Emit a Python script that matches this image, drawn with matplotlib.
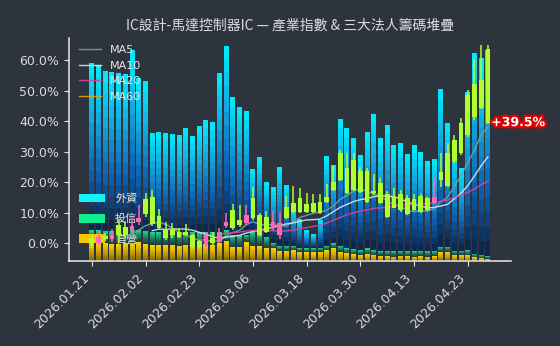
import matplotlib
matplotlib.use('Agg')
import matplotlib.pyplot as plt
import matplotlib.patheffects as pe
from matplotlib.colors import LinearSegmentedColormap
from matplotlib.patches import Patch
from matplotlib.ticker import PercentFormatter
import numpy as np
import pandas as pd

BG = '#2e343e'
CJK = ['Noto Sans CJK TC', 'DejaVu Sans']

# trading days
dates = (['2026.01.21', '2026.01.22', '2026.01.23', '2026.01.26', '2026.01.27',
          '2026.01.28', '2026.01.29', '2026.01.30']
         + ['2026.02.02', '2026.02.03', '2026.02.04', '2026.02.05', '2026.02.06',
            '2026.02.09', '2026.02.10', '2026.02.11', '2026.02.23', '2026.02.24',
            '2026.02.25', '2026.02.26']
         + ['2026.03.02', '2026.03.03', '2026.03.04', '2026.03.05', '2026.03.06',
            '2026.03.09', '2026.03.10', '2026.03.11', '2026.03.12', '2026.03.13',
            '2026.03.16', '2026.03.17', '2026.03.18', '2026.03.19', '2026.03.20',
            '2026.03.23', '2026.03.24', '2026.03.25', '2026.03.26', '2026.03.27',
            '2026.03.30', '2026.03.31']
         + ['2026.04.01', '2026.04.02', '2026.04.07', '2026.04.08', '2026.04.09',
            '2026.04.10', '2026.04.13', '2026.04.14', '2026.04.15', '2026.04.16',
            '2026.04.17', '2026.04.20', '2026.04.21', '2026.04.22', '2026.04.23',
            '2026.04.24', '2026.04.27', '2026.04.28'])

# industry index, % change from the first day
open_ = [1.6, 0.0, 2.3, 1.3, 5.9, 5.4, 4.3, 6.9, 14.5, 15.1,
         8.9, 4.3, 4.3, 3.7, 3.7, 2.6, 0.7, -0.7, 1.7, 0.4,
         5.7, 10.9, 7.6, 6.6, 14.8, 9.2, 8.6, 4.9, 2.6, 11.8,
         13.2, 14.8, 12.8, 13.2, 13.5, 15.1, 20.1, 29.6, 24.7, 27.3,
         23.7, 23.7, 17.1, 19.7, 16.1, 15.1, 16.1, 14.8, 14.5, 15.5,
         14.8, 13.2, 23.4, 29.6, 33.9, 39.5, 48.4, 52.0, 53.6, 63.5]
high = [2.6, 3.6, 3.3, 4.6, 7.9, 7.2, 7.9, 12.5, 16.4, 17.4,
        11.2, 6.9, 6.6, 4.9, 6.3, 3.0, 1.0, 3.6, 3.6, 4.9,
        9.9, 12.8, 12.5, 12.5, 18.4, 9.9, 10.5, 10.5, 10.2, 15.5,
        18.8, 18.1, 16.4, 16.1, 16.1, 19.4, 25.3, 30.6, 29.6, 29.6,
        25.0, 24.7, 22.7, 21.4, 17.1, 18.1, 17.4, 15.8, 16.1, 16.1,
        15.1, 21.4, 29.6, 32.9, 35.5, 41.1, 50.3, 60.2, 64.8, 65.1]
low = [-1.6, -0.7, 0.7, 0.4, 0.3, 1.6, 3.3, 5.9, 8.6, 5.6,
       4.3, 1.0, 1.6, 1.6, 2.3, -1.6, -1.6, -1.3, -0.7, 0.0,
       4.9, 4.3, 5.3, 5.9, 7.6, 2.3, 3.3, 4.3, 1.3, 7.9,
       9.9, 9.9, 9.9, 9.9, 9.5, 13.2, 17.1, 20.4, 16.1, 17.1,
       16.4, 13.2, 15.8, 12.8, 8.2, 11.5, 10.2, 9.2, 10.5, 9.9,
       10.5, 12.8, 18.4, 18.4, 26.3, 28.9, 34.9, 40.5, 43.8, 39.1]
close = [0.0, 2.0, 1.3, 2.6, 2.6, 2.6, 5.6, 8.2, 9.5, 6.3,
         4.9, 1.6, 2.6, 2.1, 2.6, -1.2, -1.2, 2.6, -0.1, 3.2,
         7.0, 4.8, 5.9, 9.2, 8.2, 2.6, 3.6, 6.9, 6.6, 8.2,
         10.2, 10.2, 10.2, 10.2, 9.9, 13.5, 17.4, 20.7, 16.4, 17.4,
         16.8, 13.5, 16.4, 13.2, 8.6, 11.5, 10.9, 9.5, 10.9, 10.2,
         10.9, 15.1, 20.7, 18.8, 27.0, 29.6, 35.5, 41.4, 44.4, 39.5]

# institutional holdings (千張)
foreign = [16.7, 16.5, 16.0, 15.9, 15.7, 15.6, 18.0, 15.2, 15.0, 9.9,
           10.0, 9.9, 9.8, 9.7, 10.4, 9.6, 10.6, 11.2, 11.0, 15.9,
           18.4, 13.8, 12.8, 12.4, 6.3, 7.7, 5.5, 5.6, 7.9, 6.1,
           3.9, 2.9, 1.8, 1.4, 2.8, 9.0, 7.8, 12.7, 12.0, 11.1,
           9.5, 11.6, 13.6, 11.3, 12.6, 10.6, 10.8, 9.7, 10.6, 9.9,
           9.0, 9.2, 15.8, 12.4, 10.1, 8.3, 15.8, 20.1, 19.7, 20.6]
trust = [1.2, 1.3, 1.15, 1.3, 1.4, 1.3, 1.35, 1.2, 1.3, 1.3,
         1.3, 1.3, 1.3, 1.4, 1.3, 1.3, 1.4, 1.2, 1.3, 1.1,
         1.1, 1.17, 1.17, 0.67, 1.37, 1.17, 1.13, 0.5, 0.53, 0.53,
         0.43, 0.37, 0.4, 0.43, 0.4, 0.43, 0.5, 0.6, 0.5, 0.53,
         0.5, 0.6, 0.5, 0.47, 0.5, 0.55, 0.45, 0.5, 0.55, 0.5,
         0.55, 0.5, 0.5, 0.5, 0.45, 0.45, 0.5, 0.35, 0.3, 0.25]
dealer = [1.94, 1.84, 1.89, 1.74, 1.74, 1.84, 1.79, 1.94, 1.74, 1.64,
          1.64, 1.64, 1.64, 1.54, 1.64, 1.64, 1.54, 1.74, 1.64, 1.84,
          2.04, 1.47, 1.47, 1.97, 1.57, 1.57, 1.34, 1.34, 1.04, 1.04,
          1.14, 0.97, 0.91, 0.91, 0.97, 1.14, 1.31, 0.97, 0.81, 0.71,
          0.64, 0.71, 0.64, 0.57, 0.54, 0.49, 0.59, 0.54, 0.49, 0.54,
          0.49, 0.54, 0.97, 0.97, 0.64, 0.64, 0.64, 0.44, 0.34, 0.29]

inst_labels = ['外資', '投信', '自營']
ma_windows = [5, 10, 20, 60]
ma_colors = ['#6fa3a8', '#dde6f3', '#e0409e', '#e0a800']

# %%
x = np.arange(len(dates))
o, h, l, c = (np.array(v) for v in (open_, high, low, close))
f_arr, t_arr, d_arr = np.array(foreign), np.array(trust), np.array(dealer)

fig = plt.figure(figsize=(5.6, 3.46), dpi=100, facecolor=BG)
ax = fig.add_axes([0.1232, 0.2445, 0.7888, 0.6471])
ax2 = ax.twinx()
ax.set_zorder(ax2.get_zorder() + 1)
ax.patch.set_visible(False)
ax2.patch.set_visible(True)
ax2.patch.set_facecolor(BG)

# stacked chip bars, each segment drawn as a stepped vertical gradient
cmaps = [LinearSegmentedColormap.from_list('dl', ['#7a5e00', '#c9a000', '#ffd400']),
         LinearSegmentedColormap.from_list('tr', ['#163f3a', '#1f7a62', '#20d890']),
         LinearSegmentedColormap.from_list('fx', ['#0a2246', '#0d5fae', '#13a6dc', '#00f0ff'])]
steps = 14
base = np.zeros(len(x))
for seg, cm in zip([d_arr, t_arr, f_arr], cmaps):
    for k in range(steps):
        ax2.bar(x, seg / steps, bottom=base + seg * k / steps, width=0.74,
                color=cm((k + 0.5) / steps), linewidth=0)
    base = base + seg
ax2.set_ylim(0, base.max() * 1.04)
ax2.set_yticks([])
for s in ax2.spines.values():
    s.set_visible(False)

handles = [Patch(facecolor='#18f0fa'), Patch(facecolor='#10ee90'),
           Patch(facecolor='#f5c800')]
ax2.legend(handles, inst_labels, loc='lower left', bbox_to_anchor=(0, 0.03),
           frameon=False, handlelength=2.35, handleheight=0.85,
           handletextpad=0.9, labelspacing=0.9, labelcolor='#e8e8e8',
           prop={'family': CJK, 'size': 8})

# candles
up = c > o
col = np.where(up, '#ff69b4', '#adff2f')
ax.vlines(x, l, h, color=col, linewidth=1.1, zorder=3)
body = np.maximum(np.abs(c - o), 0.3)
ax.bar(x, body, bottom=np.minimum(o, c), width=0.7, color=col, linewidth=0,
       zorder=4)

# moving averages
for n, mc in zip(ma_windows, ma_colors):
    ma = pd.Series(c).rolling(n).mean()
    ax.plot(x, ma, color=mc, linewidth=1.0, alpha=0.9, label='MA%d' % n, zorder=2)
ax.legend(loc='upper left', bbox_to_anchor=(0, 1.01), frameon=False, fontsize=8,
          labelspacing=0.5, labelcolor='#e8e8e8')

ax.text(x[-1] + 0.5, c[-1], '%+.1f%%' % c[-1], color='white', fontsize=9,
        fontweight='bold', ha='left', va='center', zorder=6,
        path_effects=[pe.withStroke(linewidth=3.5, foreground='#e00000')])

ax.set_xlim(-3.4, 62.4)
ax.set_ylim(-6.0, 67.4)
ax.set_yticks(np.arange(0, 61, 10))
ax.yaxis.set_major_formatter(PercentFormatter(decimals=1))
ax.set_xticks(x[::8])
ax.set_xticklabels(dates[::8], rotation=45, ha='right')
ax.tick_params(colors='#e0e0e0', labelsize=9, labelcolor='#d8dce2')
for side in ['top', 'right']:
    ax.spines[side].set_visible(False)
for side in ['left', 'bottom']:
    ax.spines[side].set_color('#e8e8e8')
    ax.spines[side].set_linewidth(1.1)

ax.set_title('IC設計-馬達控制器IC — 產業指數 & 三大法人籌碼堆疊', family=CJK,
             fontsize=10, color='#d8dce2')

fig.savefig('out.png', dpi=100, facecolor=BG)
